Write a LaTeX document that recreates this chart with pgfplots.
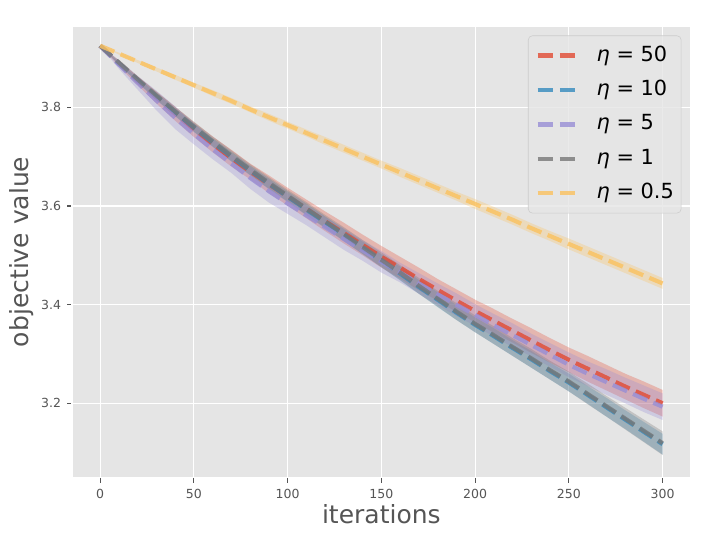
\documentclass[border=0pt]{standalone}
\usepackage{fontspec}
\setmainfont{DejaVu Sans}
\usepackage{pgfplots}
\usepackage{pgfplotstable}
\usepgfplotslibrary{fillbetween}
\pgfplotsset{compat=1.18}
\definecolor{cR}{HTML}{E24A33}
\definecolor{cB}{HTML}{348ABD}
\definecolor{cP}{HTML}{988ED5}
\definecolor{cG}{HTML}{777777}
\definecolor{cY}{HTML}{FBC15E}
\definecolor{bg}{HTML}{E5E5E5}
\definecolor{tx}{HTML}{555555}
\definecolor{lgd}{HTML}{CCCCCC}
\pgfplotstableread{
x   g     gs   b     bs   r     rs   p     ps   y     ys
0   3.925 .000 3.925 .000 3.925 .000 3.925 .000 3.925 .000
10  3.891 .004 3.889 .003 3.889 .006 3.887 .009 3.909 .002
20  3.857 .006 3.855 .005 3.854 .009 3.850 .014 3.893 .003
30  3.824 .008 3.822 .007 3.820 .012 3.814 .020 3.877 .004
40  3.792 .009 3.790 .008 3.787 .014 3.779 .023 3.861 .005
50  3.761 .010 3.759 .009 3.755 .015 3.746 .021 3.845 .005
60  3.731 .010 3.729 .009 3.725 .016 3.715 .020 3.829 .006
70  3.702 .011 3.700 .010 3.697 .017 3.686 .019 3.813 .006
80  3.674 .011 3.672 .010 3.670 .016 3.657 .022 3.796 .006
90  3.647 .012 3.645 .011 3.644 .018 3.630 .023 3.780 .007
100 3.621 .012 3.619 .011 3.619 .018 3.605 .021 3.764 .007
110 3.595 .013 3.593 .012 3.594 .019 3.581 .020 3.748 .007
120 3.569 .013 3.567 .012 3.569 .020 3.557 .021 3.732 .008
130 3.543 .014 3.541 .012 3.545 .021 3.533 .022 3.716 .008
140 3.517 .014 3.515 .013 3.521 .021 3.510 .021 3.700 .008
150 3.491 .015 3.489 .013 3.497 .022 3.487 .022 3.684 .008
160 3.465 .015 3.463 .014 3.475 .022 3.465 .020 3.668 .009
170 3.438 .016 3.436 .014 3.452 .023 3.443 .021 3.652 .009
180 3.412 .016 3.410 .015 3.430 .022 3.421 .022 3.636 .009
190 3.386 .017 3.384 .015 3.408 .023 3.400 .023 3.620 .009
200 3.361 .017 3.359 .015 3.387 .023 3.379 .022 3.604 .010
210 3.338 .018 3.336 .016 3.367 .024 3.358 .023 3.588 .010
220 3.314 .018 3.312 .016 3.347 .024 3.338 .024 3.572 .010
230 3.291 .019 3.289 .017 3.327 .025 3.318 .023 3.555 .010
240 3.267 .019 3.265 .017 3.307 .025 3.298 .024 3.539 .010
250 3.244 .020 3.242 .018 3.288 .025 3.278 .025 3.523 .011
260 3.219 .021 3.217 .018 3.270 .026 3.260 .025 3.507 .011
270 3.194 .021 3.192 .019 3.252 .026 3.243 .026 3.491 .011
280 3.169 .022 3.167 .019 3.234 .026 3.226 .026 3.475 .011
290 3.144 .023 3.142 .020 3.217 .027 3.209 .027 3.459 .011
300 3.119 .024 3.117 .021 3.200 .027 3.193 .027 3.443 .011
}\data
\pgfplotsset{
  ln/.style={#1, line width=3pt, dash pattern=on 11.1pt off 4.8pt, draw opacity=0.8, line join=round},
  bnd/.style={fill=#1, fill opacity=0.3, draw=none, forget plot},
}
\begin{document}
\begin{tikzpicture}
\begin{axis}[name=ax, scale only axis, width=445.46pt, height=325.22pt,
  xmin=-15, xmax=315, ymin=3.049, ymax=3.965,
  axis background/.style={fill=bg},
  axis line style={white, line width=1pt},
  grid=major, major grid style={white, line width=0.8pt},
  tick align=outside, tick pos=left, major tick length=3.5pt,
  major tick style={tx, line width=0.8pt},
  xtick={0,50,...,300}, ytick={3.2,3.4,3.6,3.8},
  scaled y ticks=false,
  y tick label style={/pgf/number format/fixed, /pgf/number format/fixed zerofill, /pgf/number format/precision=1},
  /pgf/number format/assume math mode=true,
  ticklabel style={font=\fontsize{9}{11}\selectfont, text=tx, inner sep=0pt},
  xticklabel style={anchor=north, yshift=-4.6pt},
  yticklabel style={anchor=east, xshift=-4.2pt},
  xlabel={iterations}, ylabel={objective value},
  label style={font=\fontsize{18}{21}\selectfont, text=tx, inner sep=0pt},
  xlabel style={at={(axis description cs:0.5,-0.1025)}, anchor=base},
  ylabel style={at={(axis description cs:-0.0696,0.5)}, anchor=base},
  legend style={at={(axis description cs:0.985,0.979)}, anchor=north east,
    draw=lgd, fill=bg, fill opacity=0.8, text opacity=1, rounded corners=3pt,
    font=\fontsize{15}{18}\selectfont, text=black,
    inner xsep=5.3pt, inner ysep=6.25pt, row sep=8.8pt,
    nodes={inner sep=0pt, text height=12pt, text depth=4pt}},
  legend cell align=left,
  legend image code/.code={\draw[#1] (0pt,0pt) -- (31pt,0pt); \path[draw=none, fill=none] (0pt,-1pt) (42.5pt,1pt);},
]
% eta = 50
\addplot[draw=none, name path=ru, forget plot] table[x=x, y expr=\thisrow{r}+\thisrow{rs}] {\data};
\addplot[draw=none, name path=rl, forget plot] table[x=x, y expr=\thisrow{r}-\thisrow{rs}] {\data};
\addplot[bnd=cR] fill between[of=ru and rl];
\addplot[ln=cR] table[x=x, y=r] {\data};
\addlegendentry{\textit{η} = 50}
% eta = 10
\addplot[draw=none, name path=bu, forget plot] table[x=x, y expr=\thisrow{b}+\thisrow{bs}] {\data};
\addplot[draw=none, name path=bl, forget plot] table[x=x, y expr=\thisrow{b}-\thisrow{bs}] {\data};
\addplot[bnd=cB] fill between[of=bu and bl];
\addplot[ln=cB] table[x=x, y=b] {\data};
\addlegendentry{\textit{η} = 10}
% eta = 5
\addplot[draw=none, name path=pu, forget plot] table[x=x, y expr=\thisrow{p}+\thisrow{ps}] {\data};
\addplot[draw=none, name path=pl, forget plot] table[x=x, y expr=\thisrow{p}-\thisrow{ps}] {\data};
\addplot[bnd=cP] fill between[of=pu and pl];
\addplot[ln=cP] table[x=x, y=p] {\data};
\addlegendentry{\textit{η} = 5}
% eta = 1
\addplot[draw=none, name path=gu, forget plot] table[x=x, y expr=\thisrow{g}+\thisrow{gs}] {\data};
\addplot[draw=none, name path=gl, forget plot] table[x=x, y expr=\thisrow{g}-\thisrow{gs}] {\data};
\addplot[bnd=cG] fill between[of=gu and gl];
\addplot[ln=cG] table[x=x, y=g] {\data};
\addlegendentry{\textit{η} = 1}
% eta = 0.5
\addplot[draw=none, name path=yu, forget plot] table[x=x, y expr=\thisrow{y}+\thisrow{ys}] {\data};
\addplot[draw=none, name path=yl, forget plot] table[x=x, y expr=\thisrow{y}-\thisrow{ys}] {\data};
\addplot[bnd=cY] fill between[of=yu and yl];
\addplot[ln=cY] table[x=x, y=y] {\data};
\addlegendentry{\textit{η} = 0.5}
\node[anchor=base west, font=\fontsize{9}{11}\selectfont, text=tx, inner sep=0pt] at (axis description cs:0,1.0104) {1e6};
\end{axis}
\pgfresetboundingbox
\path[use as bounding box] ([xshift=-51.84pt, yshift=-45.58pt]ax.south west) rectangle ++(504.72pt,389.52pt);
\end{tikzpicture}
\end{document}
